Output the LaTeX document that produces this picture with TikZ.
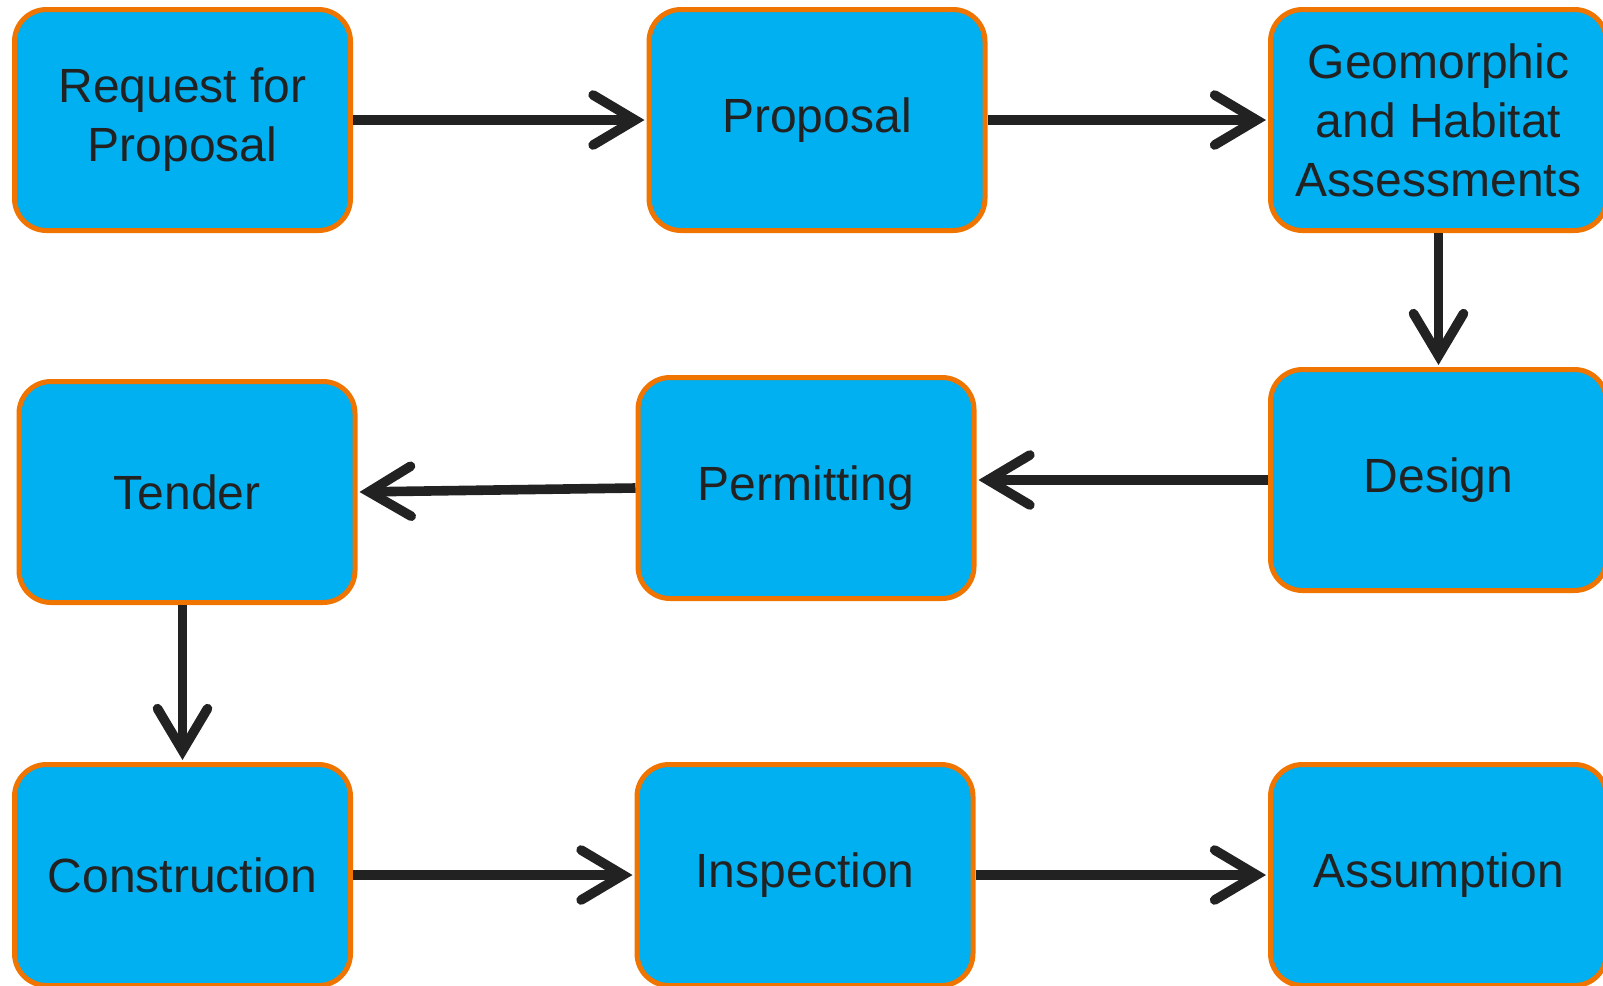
\documentclass[tikz,border=0pt]{standalone}
\usepackage{fontspec}
\setmainfont{Liberation Sans}
\usetikzlibrary{arrows.meta}
\definecolor{boxfill}{HTML}{00B0F0}
\definecolor{boxline}{HTML}{F07400}
\definecolor{ink}{HTML}{222222}
\tikzset{
  stepbox/.style={draw=boxline, fill=boxfill, line width=2.5pt, rounded corners=16pt,
    minimum width=168pt, minimum height=110.5pt, inner sep=0pt, align=center,
    text=ink, font=\fontsize{24pt}{29.5pt}\selectfont},
  flow/.style={draw=ink, line width=4.8pt,
    -{Straight Barb[length=21pt,width=25pt,line cap=round]}, shorten >=1pt}
}
\begin{document}
\begin{tikzpicture}[x=0.5pt,y=-0.5pt]
\useasboundingbox (0,0) rectangle (1603,986);
\node[stepbox] (A) at (182.5,120) {Request for\\Proposal};
\node[stepbox] (B) at (817,120) {Proposal};
\node[stepbox] (C) at (1438.5,120) {Geomorphic\\and Habitat\\Assessments};
\node[stepbox] (D) at (1438.5,480) {Design};
\node[stepbox] (E) at (806,488) {Permitting};
\node[stepbox] (F) at (187,492) {Tender};
\node[stepbox] (G) at (182.5,875) {Construction};
\node[stepbox] (H) at (805,875) {Inspection};
\node[stepbox] (I) at (1438.5,875) {Assumption};
\draw[flow] (A.east) -- (B.west);
\draw[flow] (B.east) -- (C.west);
\draw[flow] (C.south) -- (D.north);
\draw[flow] (D.west) -- (D.west -| E.east);
\draw[flow] (E.west) -- (F.east);
\draw[flow] (F.south -| G.north) -- (G.north);
\draw[flow] (G.east) -- (H.west);
\draw[flow] (H.east) -- (I.west);
\end{tikzpicture}
\end{document}
